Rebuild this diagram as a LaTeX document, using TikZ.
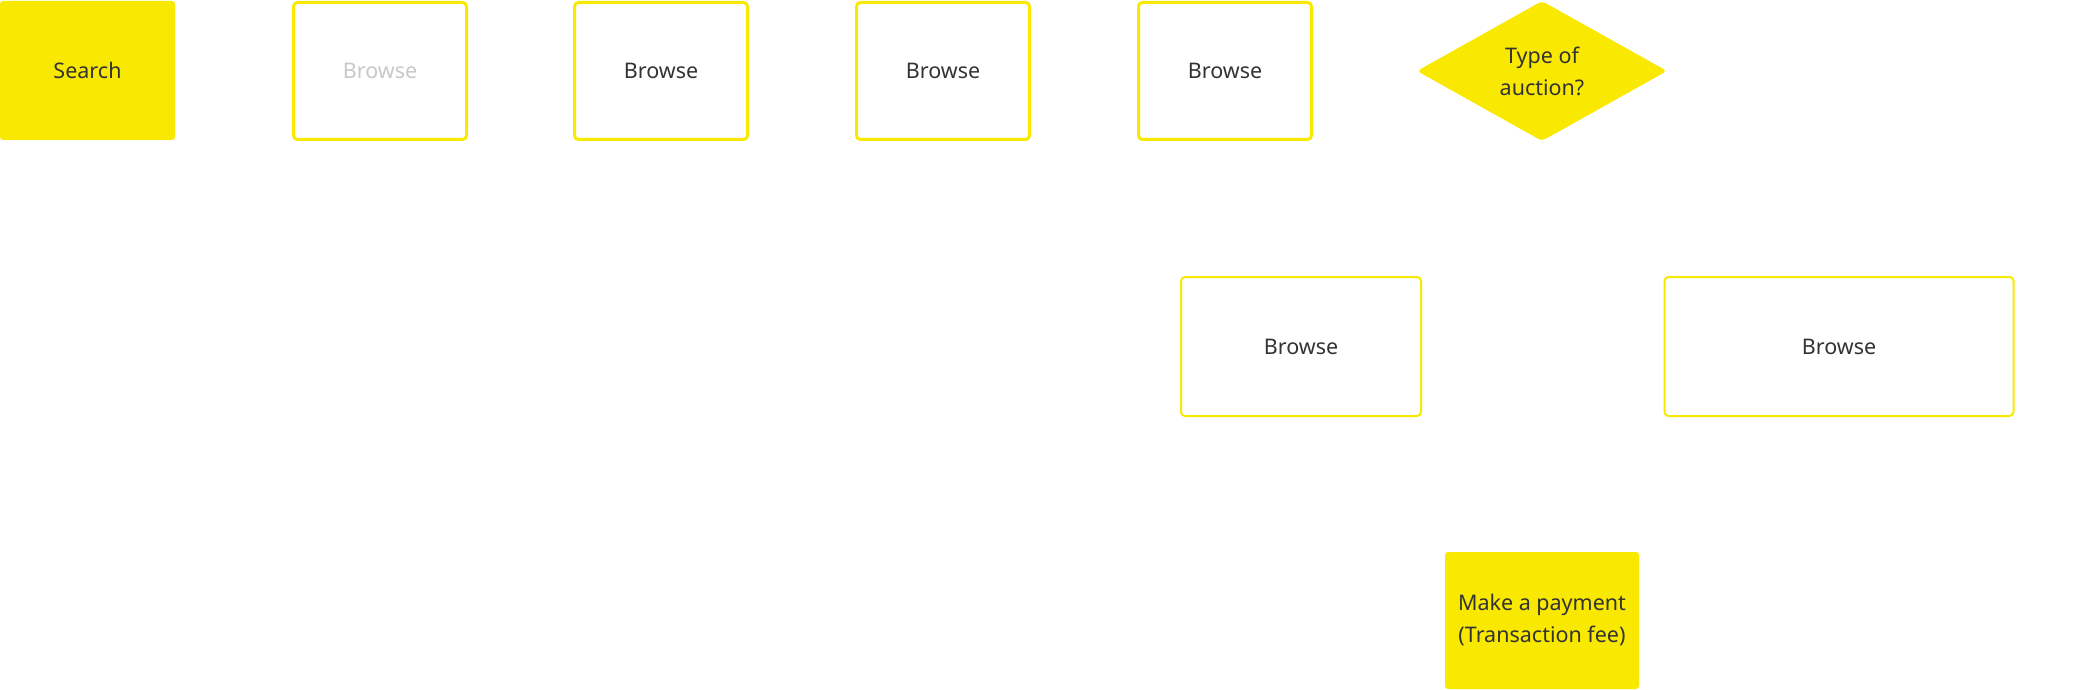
\documentclass[tikz,border=0pt]{standalone}
\usepackage{fontspec}
\setmainfont{Noto Sans}
\usetikzlibrary{shapes.geometric}
\definecolor{ylw}{HTML}{F9E900}
\definecolor{txt}{HTML}{333333}
\definecolor{faint}{HTML}{C8C8C8}
\begin{document}
\begin{tikzpicture}[x=1pt,y=-1pt,
  lbl/.style={inner sep=0pt, text=txt, align=center, font=\fontsize{21.5}{32}\selectfont},
  filledbox/.style={lbl, fill=ylw, rounded corners=3pt},
  outlinebox/.style={lbl, draw=ylw, line width=3pt, rounded corners=4pt, minimum width=173pt, minimum height=137pt},
  widebox/.style={lbl, draw=ylw, line width=2pt, rounded corners=4pt, minimum height=139pt},
  decision/.style={lbl, diamond, fill=ylw, rounded corners=4pt, minimum width=250pt, minimum height=140pt}]
\useasboundingbox (0,0) rectangle (2080,690);
\node[filledbox, minimum width=175pt, minimum height=139pt] (search) at (87.5,70.5) {Search};
\node[outlinebox, text=faint] (b1) at (380,71) {Browse};
\node[outlinebox] (b2) at (661,71) {Browse};
\node[outlinebox] (b3) at (943,71) {Browse};
\node[outlinebox] (b4) at (1225,71) {Browse};
\node[decision] (type) at (1542,71) {Type of\\auction?};
\node[widebox, minimum width=240pt] (b5) at (1301,346.5) {Browse};
\node[widebox, minimum width=349pt] (b6) at (1839,346.5) {Browse};
\node[filledbox, minimum width=194pt, minimum height=137pt] (pay) at (1542,620.5) {Make a payment\\(Transaction fee)};
\end{tikzpicture}
\end{document}
